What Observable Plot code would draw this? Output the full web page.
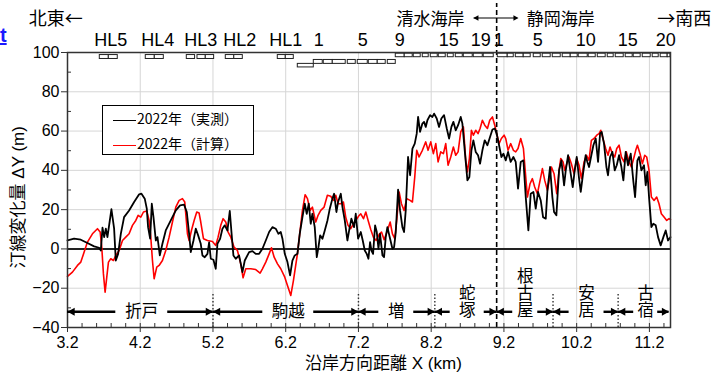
<!DOCTYPE html>
<html><head><meta charset="utf-8">
<script src="https://cdn.jsdelivr.net/npm/d3@7"></script>
<script src="https://cdn.jsdelivr.net/npm/@observablehq/plot@0.6"></script>
<style>
body{margin:0;background:#fff;}
#wrap{position:relative;width:714px;height:374px;overflow:hidden;background:#fff;}
#legend{position:absolute;left:102px;top:105px;width:150px;height:48px;border:1.2px solid #000;background:#fff;font-family:'Noto Sans CJK JP',sans-serif;font-size:14px;color:#000;}
.row{position:absolute;left:10px;height:20px;line-height:20px;white-space:nowrap;}
.sw{display:inline-block;width:23px;height:0;border-top:1.6px solid;vertical-align:middle;margin-right:1px;}
#t{position:absolute;left:0px;top:24px;font:bold 20px 'Liberation Sans',sans-serif;color:#1a1aff;text-decoration:underline;}
</style></head><body>
<div id="wrap"><div id="t">t</div></div>
<script>
// ---- data ----
const seriesNames = ["2022年（実測）", "2022年（計算）"];
const seriesColors = ["#000000", "#ff0000"];

const blackX = [3.200,3.291,3.383,3.474,3.566,3.635,3.658,3.681,3.704,3.727,3.749,3.804,3.841,3.864,3.896,3.933,3.978,4.047,4.116,4.185,4.217,4.262,4.290,4.308,4.336,4.359,4.382,4.414,4.437,4.469,4.505,4.551,4.620,4.689,4.748,4.803,4.840,4.872,4.895,4.932,4.964,4.996,5.032,5.055,5.087,5.124,5.147,5.170,5.206,5.238,5.261,5.298,5.330,5.362,5.399,5.431,5.454,5.481,5.513,5.559,5.605,5.637,5.697,5.743,5.788,5.834,5.880,5.926,5.972,6.017,6.063,6.100,6.132,6.155,6.187,6.224,6.260,6.292,6.324,6.361,6.393,6.430,6.462,6.489,6.517,6.544,6.567,6.599,6.627,6.650,6.673,6.705,6.737,6.774,6.806,6.842,6.865,6.897,6.920,6.957,6.980,7.012,7.048,7.080,7.103,7.140,7.163,7.195,7.232,7.259,7.287,7.314,7.337,7.360,7.378,7.401,7.429,7.452,7.475,7.497,7.530,7.552,7.575,7.598,7.635,7.667,7.690,7.713,7.745,7.772,7.804,7.827,7.850,7.882,7.910,7.942,7.974,8.001,8.020,8.047,8.079,8.102,8.125,8.148,8.185,8.217,8.240,8.276,8.308,8.340,8.377,8.414,8.446,8.478,8.505,8.537,8.570,8.606,8.629,8.661,8.698,8.725,8.753,8.780,8.812,8.844,8.872,8.904,8.936,8.973,9.009,9.042,9.074,9.101,9.133,9.165,9.193,9.225,9.257,9.293,9.330,9.362,9.394,9.431,9.468,9.500,9.536,9.568,9.605,9.637,9.669,9.706,9.738,9.775,9.798,9.834,9.866,9.889,9.921,9.958,9.990,10.027,10.050,10.082,10.118,10.146,10.173,10.201,10.233,10.256,10.288,10.324,10.347,10.370,10.402,10.430,10.462,10.494,10.522,10.544,10.576,10.609,10.631,10.659,10.691,10.723,10.751,10.783,10.815,10.842,10.874,10.906,10.943,10.980,11.003,11.035,11.058,11.090,11.126,11.149,11.172,11.195,11.227,11.254,11.287,11.319,11.355,11.392,11.424,11.456,11.490];
const blackY = [4.3,5.2,4.7,3.0,1.3,0.6,-0.8,10.8,6.0,10.3,6.0,20.2,10.3,-5.9,-2.5,7.7,16.2,19.6,23.9,27.8,28.1,25.6,20.5,11.1,5.2,23.0,16.2,4.3,6.0,-3.3,2.6,9.4,14.5,19.6,22.2,22.5,18.8,7.7,-1.6,4.3,10.3,6.9,2.6,-3.3,-4.2,-2.5,3.3,-5.0,-5.5,-10.1,2.6,5.2,10.3,12.0,9.4,19.3,8.6,-3.3,-5.0,-3.3,-11.8,-5.9,-1.6,-1.1,-2.5,-2.5,0.1,4.3,8.6,11.1,10.3,7.7,8.6,5.2,-2.5,-6.7,-13.5,-5.9,-3.3,-2.5,7.7,16.2,23.0,17.9,23.0,12.8,17.9,11.1,-4.2,0.9,6.9,5.2,9.4,14.5,20.5,25.6,28.1,18.8,23.9,28.1,21.3,14.5,4.3,11.1,15.4,11.1,17.9,5.2,8.6,4.3,-0.8,-2.5,-5.0,3.5,-0.8,-2.5,12.0,8.6,0.1,7.7,-3.3,-4.2,6.0,11.1,5.2,0.1,0.9,8.6,30.2,19.6,11.1,8.6,19.6,46.8,37.5,51.1,53.6,58.7,67.2,59.6,63.8,64.7,62.1,65.5,68.1,67.2,68.9,66.4,62.1,66.4,68.1,61.3,56.2,62.1,64.7,60.4,63.0,67.2,63.8,50.2,34.9,36.6,50.2,55.3,49.4,47.7,43.4,50.2,55.3,52.8,57.0,60.8,61.3,58.5,52.8,46.8,48.5,45.1,49.4,44.3,46.8,44.3,30.7,44.3,45.1,26.4,9.4,28.1,29.0,20.5,29.0,24.7,16.2,15.4,29.8,41.7,26.4,18.8,17.1,40.0,45.1,32.4,40.0,47.7,38.3,31.5,40.0,46.8,35.8,29.0,38.3,47.7,44.3,41.7,47.7,52.8,56.2,44.3,58.7,59.6,53.6,41.7,37.5,46.8,49.4,40.0,42.6,47.7,41.7,34.9,49.4,42.6,48.5,34.1,26.4,45.1,46.8,40.0,42.6,32.4,39.2,26.4,11.1,12.8,12.0,6.0,1.8,6.0,9.4,4.3,6.0];

const redX = [3.200,3.268,3.337,3.383,3.429,3.474,3.543,3.612,3.649,3.671,3.694,3.717,3.740,3.763,3.795,3.832,3.864,3.910,3.956,4.001,4.047,4.093,4.139,4.171,4.208,4.244,4.290,4.322,4.345,4.368,4.391,4.427,4.459,4.505,4.551,4.597,4.643,4.689,4.735,4.780,4.812,4.849,4.872,4.904,4.941,4.977,5.009,5.032,5.069,5.124,5.193,5.238,5.270,5.307,5.339,5.376,5.408,5.445,5.490,5.536,5.582,5.614,5.651,5.720,5.788,5.848,5.880,5.926,5.972,6.004,6.041,6.087,6.132,6.187,6.224,6.270,6.306,6.361,6.398,6.430,6.467,6.499,6.535,6.567,6.613,6.645,6.682,6.728,6.773,6.819,6.856,6.888,6.920,6.957,6.993,7.025,7.057,7.094,7.131,7.163,7.200,7.232,7.269,7.301,7.333,7.370,7.406,7.443,7.489,7.517,7.553,7.599,7.636,7.667,7.699,7.726,7.759,7.791,7.827,7.864,7.910,7.942,7.974,8.001,8.033,8.079,8.125,8.157,8.194,8.230,8.263,8.295,8.331,8.368,8.400,8.432,8.469,8.505,8.537,8.570,8.606,8.643,8.675,8.698,8.725,8.753,8.780,8.812,8.844,8.872,8.904,8.936,8.973,9.005,9.042,9.074,9.101,9.133,9.165,9.202,9.225,9.257,9.293,9.330,9.362,9.394,9.431,9.468,9.500,9.523,9.559,9.591,9.623,9.660,9.697,9.729,9.761,9.798,9.830,9.853,9.889,9.926,9.958,9.981,10.013,10.036,10.072,10.095,10.127,10.164,10.201,10.233,10.265,10.302,10.334,10.370,10.402,10.439,10.476,10.508,10.531,10.567,10.599,10.631,10.659,10.691,10.723,10.751,10.783,10.815,10.851,10.883,10.920,10.952,10.989,11.012,11.035,11.071,11.103,11.136,11.163,11.195,11.227,11.264,11.300,11.332,11.364,11.401,11.438,11.470,11.490];
const redY = [-14.0,-11.8,-8.4,-6.7,-1.6,3.5,7.7,10.3,8.6,0.9,-12.7,-22.0,-14.4,-6.7,-5.0,-5.9,-3.3,-0.8,4.3,6.0,7.7,12.0,14.5,17.1,16.2,18.8,19.3,14.5,6.0,-5.9,-15.2,-9.3,-8.4,-5.9,-0.8,6.0,13.7,21.3,24.7,25.6,23.9,7.7,4.3,9.4,14.5,18.8,18.3,13.7,5.2,4.3,3.8,1.8,6.0,12.0,15.4,13.7,8.6,6.0,0.9,-0.8,-7.6,-14.7,-10.1,-10.1,-10.5,-12.3,-10.1,-6.7,-2.5,0.6,-4.2,-7.6,-10.1,-14.4,-18.6,-23.7,-16.1,-2.5,9.4,19.6,27.6,25.6,19.6,21.3,13.7,17.1,19.6,21.3,27.3,26.8,24.7,27.3,23.0,23.0,23.9,16.2,12.0,10.3,12.8,14.5,16.6,17.9,15.4,18.8,14.5,9.8,6.0,4.3,7.7,8.6,4.7,9.4,13.7,7.7,5.2,14.5,29.0,23.0,19.6,25.6,24.7,23.9,36.6,50.2,46.8,50.2,54.5,50.2,54.5,48.5,53.6,44.3,49.4,48.5,53.6,42.6,46.8,51.9,47.7,49.4,59.6,62.1,45.1,39.2,46.0,60.4,57.9,60.4,58.7,61.3,65.5,63.0,61.3,65.5,67.2,63.0,58.7,53.6,56.2,57.9,56.2,50.2,53.6,50.2,49.4,51.1,56.2,51.1,36.6,26.4,33.2,35.8,31.5,28.1,34.9,40.9,34.9,29.8,36.6,41.7,38.3,28.1,40.0,46.0,44.3,40.0,44.3,46.8,43.4,38.3,46.0,42.6,35.8,44.3,47.7,45.1,55.3,56.2,57.9,58.7,60.4,55.3,51.1,47.7,51.9,48.5,46.8,51.1,52.8,46.8,44.3,49.4,44.3,41.7,46.8,50.2,52.8,48.5,43.4,47.7,46.8,40.0,26.4,24.7,26.4,23.0,17.9,16.2,14.5,15.4,14.9];

const xTicks = [3.2,4.2,5.2,6.2,7.2,8.2,9.2,10.2,11.2];
const xMinorTicks = [3.4,3.6,3.8,4.0,4.2,4.4,4.6,4.8,5.0,5.2,5.4,5.6,5.8,6.0,6.2,6.4,6.6,6.8,7.0,7.2,7.4,7.6,7.8,8.0,8.2,8.4,8.6,8.8,9.0,9.2,9.4,9.6,9.8,10.0,10.2,10.4,10.6,10.8,11.0,11.2,11.4];
const yTicks = [-40,-20,0,20,40,60,80,100];
const yMinorTicks = [-30,-10,10,30,50,70,90];
const gridXValues = [4.2,5.2,6.2,7.2,8.2,9.2,10.2,11.2];
const gridYValues = [-20,20,40,60,80];

// breakwater labels along the top
const topLabels = ["HL5","HL4","HL3","HL2","HL1","1","5","9","15","19","1","5","10","15","20"];
const topLabelX = [3.795,4.441,5.032,5.568,6.201,6.654,7.259,7.768,8.441,8.881,9.128,9.665,10.324,10.902,11.424];

// breakwaters (km start / end, row 0=HL, 1=low, 2=mid, 3=top)
const bwX1 = [3.644,3.768,4.276,4.400,4.840,4.987,5.101,5.376,5.493,6.091,6.201, 6.366, 6.586,6.723,6.847,7.053,7.190,7.342,7.465,7.603, 7.713,7.836,7.960,8.084,8.194,8.304,8.428,8.538,8.648,8.785,8.922, 9.115,9.252,9.363,9.472,9.610,9.733,9.871,10.008,10.118,10.228,10.365,10.490,10.627,10.737,10.874,10.984,11.108,11.245,11.355,11.451];
const bwX2 = [3.768,3.891,4.400,4.524,4.954,5.101,5.216,5.493,5.610,6.201,6.311, 6.586, 6.709,6.847,7.025,7.163,7.328,7.465,7.575,7.713, 7.836,7.946,8.056,8.166,8.290,8.400,8.510,8.634,8.771,8.909,9.060, 9.252,9.335,9.472,9.568,9.706,9.843,9.981,10.118,10.214,10.352,10.462,10.599,10.709,10.847,10.970,11.080,11.218,11.328,11.451,11.490];
const bwRow = [0,0,0,0,0,0,0,0,0,0,0, 1, 2,2,2,2,2,2,2,2, 3,3,3,3,3,3,3,3,3,3,3, 3,3,3,3,3,3,3,3,3,3,3,3,3,3,3,3,3,3,3,3];
const rowBottom = [96.7, 92.4, 94.2, 97.6];
const rowTop = [98.7, 94.2, 96.2, 99.4];

// coastal sections along the bottom (vertical: written top-to-bottom)
const sectLabels = ["折戸","駒越","増","蛇塚","根古屋","安居","古宿"];
const sectVertical = [false,false,false,true,true,true,true];
const sectStart = [3.2,5.2,7.2,8.25,9.1,9.875,10.77];
const sectEnd = [5.2,7.2,8.25,9.1,9.875,10.77,11.47];
const sectMid = [4.221,6.235,7.72,8.695,9.493,10.336,11.149];
const sectGap = [0.357,0.35,0.24,0.234,0.172,0.24,0.165];
const dividerX = [5.2,7.2,8.25,9.875,10.77];
const coastBoundary = [9.1];

// ---- build ----
const black = blackX.map((x, i) => ({x, y: blackY[i]}));
const red = redX.map((x, i) => ({x, y: redY[i]}));
const bws = bwX1.map((x1, i) => ({x1, x2: bwX2[i], y1: rowBottom[bwRow[i]], y2: rowTop[bwRow[i]]}));
const sections = sectLabels.map((label, i) => ({label, v: sectVertical[i], s: sectStart[i], e: sectEnd[i], m: sectMid[i], g: sectGap[i]}));
const segs = sections.flatMap(d => [{x1: d.s, x2: d.m - d.g}, {x1: d.m + d.g, x2: d.e}]);
const verticalSet = new Set(sections.filter(d => d.v).map(d => d.label));

const arrowSym = dir => ({draw(ctx, size) {
  const r = Math.sqrt(size / Math.PI), L = r * 1.8;
  ctx.moveTo(0, 0); ctx.lineTo(-dir * L, -r); ctx.lineTo(-dir * L, r); ctx.closePath();
}});

const jp = "'Noto Sans CJK JP', sans-serif";
const latin = "'Liberation Sans', Arial, sans-serif";
const mixed = "'Liberation Sans', 'Noto Sans CJK JP', sans-serif";
const arrowY = -32;
const charStep = 17 / 1.964; // one character height, in y units

const chart = Plot.plot({
  width: 714, height: 374,
  marginLeft: 67, marginRight: 44, marginTop: 52, marginBottom: 47,
  style: {fontFamily: latin, fontSize: "16px", color: "#000", background: "#fff"},
  x: {domain: [3.2, 11.49]},
  y: {domain: [-40, 100]},
  marks: [
    Plot.ruleX(gridXValues, {y1: -40, y2: 100, stroke: "#d6d6d6", strokeWidth: 1}),
    Plot.ruleY(gridYValues, {stroke: "#d6d6d6", strokeWidth: 1}),
    Plot.ruleY([0], {stroke: "#222", strokeWidth: 2}),
    Plot.line(red, {x: "x", y: "y", stroke: seriesColors[1], strokeWidth: 1.6}),
    Plot.line(black, {x: "x", y: "y", stroke: seriesColors[0], strokeWidth: 1.8}),
    Plot.ruleX(dividerX, {y1: -40, y2: -22.7, stroke: "#333", strokeWidth: 1.4, strokeDasharray: "1.5,2"}),
    Plot.ruleX(coastBoundary, {y1: -40, y2: 125, stroke: "#000", strokeWidth: 1.6, strokeDasharray: "5,3"}),
    Plot.rect(bws, {x1: "x1", x2: "x2", y1: "y1", y2: "y2", fill: "#fff", stroke: "#222", strokeWidth: 1}),
    Plot.frame({stroke: "#333", strokeWidth: 1.5}),
    Plot.axisX({ticks: xTicks, tickSize: 5, tickPadding: 4, tickFormat: d => d.toFixed(1), label: null, fontSize: 16, stroke: "#333"}),
    Plot.axisX({ticks: xMinorTicks, tickSize: -4, tickFormat: () => "", label: null, stroke: "#333"}),
    Plot.axisY({ticks: yTicks, tickSize: 6, tickPadding: 2, label: null, fontSize: 16, stroke: "#333"}),
    Plot.axisY({ticks: yMinorTicks, tickSize: -4, tickFormat: () => "", label: null, stroke: "#333"}),
    // section arrows
    Plot.ruleY(segs, {x1: "x1", x2: "x2", y: arrowY, stroke: "#000", strokeWidth: 2.4}),
    Plot.dot(sections, {x: "s", y: arrowY, r: 4, symbol: arrowSym(-1), fill: "#000", stroke: "none"}),
    Plot.dot(sections, {x: "e", y: arrowY, r: 4, symbol: arrowSym(1), fill: "#000", stroke: "none"}),
    Plot.text(sections.filter(d => !d.v), {x: "m", y: arrowY, text: "label", fontSize: 16.5, fontFamily: jp}),
    Plot.text(sections.filter(d => d.v), {x: "m", y: d => arrowY + 1.1 + (d.label.length - 1) * charStep / 2, text: "label", lineAnchor: "bottom", fontSize: 16.5, fontFamily: jp}),
    // top labels
    Plot.text(topLabels, {x: topLabelX, y: 106, text: d => d, fontSize: 18, fontFamily: latin}),
    Plot.text(["北東←"], {x: [3.04], y: 116.8, text: d => d, fontSize: 18, fontFamily: jp}),
    Plot.text(["清水海岸"], {x: [8.19], y: 116.8, text: d => d, fontSize: 17, fontFamily: jp}),
    Plot.text(["静岡海岸"], {x: [9.98], y: 116.8, text: d => d, fontSize: 17, fontFamily: jp}),
    Plot.text(["→南西"], {x: [11.68], y: 116.8, text: d => d, fontSize: 18, fontFamily: jp}),
    Plot.ruleY([117.6], {x1: 8.79, x2: 9.39, stroke: "#000", strokeWidth: 1.1}),
    Plot.dot([8.78], {x: d => d, y: 117.6, r: 2.8, symbol: arrowSym(-1), fill: "#000", stroke: "none"}),
    Plot.dot([9.40], {x: d => d, y: 117.6, r: 2.8, symbol: arrowSym(1), fill: "#000", stroke: "none"}),
    // axis titles
    Plot.text(["汀線変化量 ΔY (m)"], {x: [2.526], y: 26.3, text: d => d, rotate: -90, fontSize: 17, fontFamily: mixed}),
    Plot.text(["沿岸方向距離 X (km)"], {x: [7.544], y: -58.2, text: d => d, fontSize: 17, fontFamily: mixed})
  ]
});

// write the vertical section names top-to-bottom
d3.select(chart).selectAll("text")
  .filter(function() { return verticalSet.has(this.textContent); })
  .attr("writing-mode", "tb")
  .style("writing-mode", "vertical-rl")
  .style("text-orientation", "upright")
  .style("letter-spacing", "0.5px")
  .attr("text-anchor", "middle")
  .attr("y", null).attr("dy", null);

const wrap = document.getElementById("wrap");
wrap.appendChild(chart);
const legend = document.createElement("div");
legend.id = "legend";
seriesNames.forEach((name, i) => {
  const row = document.createElement("div");
  row.className = "row";
  row.style.top = (2 + i * 25) + "px";
  const sw = document.createElement("span");
  sw.className = "sw";
  sw.style.borderColor = seriesColors[i];
  row.appendChild(sw);
  row.appendChild(document.createTextNode(name));
  legend.appendChild(row);
});
wrap.appendChild(legend);
</script>
</body></html>
